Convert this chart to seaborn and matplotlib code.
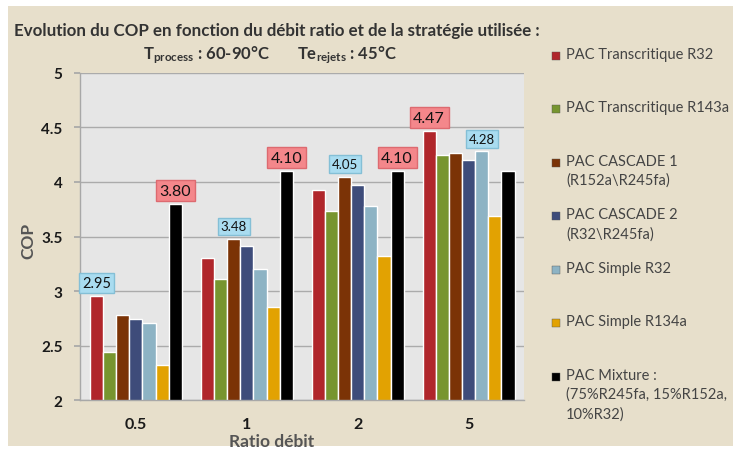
import numpy as np
import pandas as pd
import matplotlib
matplotlib.use("Agg")
import matplotlib.pyplot as plt
import seaborn as sns
from matplotlib.patches import Rectangle

# data
ratios = ["0.5", "1", "2", "5"]
strategies = [
    "PAC Transcritique R32",
    "PAC Transcritique R143a",
    "PAC CASCADE 1\n(R152a\\R245fa)",
    "PAC CASCADE 2\n(R32\\R245fa)",
    "PAC Simple R32",
    "PAC Simple R134a",
    "PAC Mixture :\n(75%R245fa, 15%R152a,\n10%R32)",
]
cop_transcritique_r32 = [2.95, 3.30, 3.93, 4.47]
cop_transcritique_r143a = [2.44, 3.11, 3.73, 4.25]
cop_cascade_1 = [2.78, 3.48, 4.05, 4.27]
cop_cascade_2 = [2.74, 3.41, 3.97, 4.20]
cop_simple_r32 = [2.71, 3.20, 3.78, 4.28]
cop_simple_r134a = [2.32, 2.85, 3.32, 3.69]
cop_mixture = [3.80, 4.10, 4.10, 4.10]
colors = ["#B0262B", "#77952F", "#7B3306", "#3E4C7A", "#8DB3C4", "#E2A202", "#000000"]

# highlighted values: (ratio index, strategy index, box style)
highlights = [(0, 0, "blue"), (0, 6, "red"), (1, 2, "blue"), (1, 6, "red"),
              (2, 2, "blue"), (2, 6, "red"), (3, 0, "red"), (3, 4, "blue")]

series = [cop_transcritique_r32, cop_transcritique_r143a, cop_cascade_1, cop_cascade_2,
          cop_simple_r32, cop_simple_r134a, cop_mixture]
rows = []
for name, vals in zip(strategies, series):
    for r, v in zip(ratios, vals):
        rows.append({"ratio": r, "strategie": name, "cop": v})
df = pd.DataFrame(rows)

sns.set_theme(style="white")
plt.rcParams["font.family"] = ["Lato", "DejaVu Sans"]
plt.rcParams["mathtext.fontset"] = "custom"
plt.rcParams["mathtext.rm"] = "Lato"
plt.rcParams["mathtext.bf"] = "Lato:bold"

W, H = 733, 452
bg = "#E7DFCB"
fig = plt.figure(figsize=(7.33, 4.52), dpi=100, facecolor="white")
# beige slide background with thin white margins top, left and bottom
fig.add_artist(Rectangle((8 / W, 1 - 447 / H), 1 - 8 / W, 440 / H,
                         transform=fig.transFigure, fc=bg, ec="none", zorder=-10))

ax = fig.add_axes([0.1098, 0.1128, 0.6051, 0.7235])
ax.set_facecolor("#E6E6E6")

sns.barplot(data=df, x="ratio", y="cop", hue="strategie", order=ratios,
            hue_order=strategies, palette=colors, width=0.83, saturation=1,
            legend=False, ax=ax)

ax.set_ylim(2, 5)
ax.set_yticks(np.arange(2, 5.01, 0.5))
ax.set_yticklabels(["2", "2.5", "3", "3.5", "4", "4.5", "5"])
ax.yaxis.grid(True, color="#ABABAB", linewidth=1)
ax.set_axisbelow(True)
for side in ["top", "right"]:
    ax.spines[side].set_visible(False)
for side in ["left", "bottom"]:
    ax.spines[side].set_color("#A8A8A8")
    ax.spines[side].set_linewidth(1)

ax.set_xticks(np.arange(-0.5, 4, 1), minor=True)
ax.tick_params(axis="x", which="major", length=0, pad=12, labelsize=11.5, labelcolor="#1A1A1A")
ax.tick_params(axis="x", which="minor", length=5, color="#A8A8A8", direction="out")
ax.tick_params(axis="y", length=4, color="#A8A8A8", direction="out", pad=9,
               labelsize=11, labelcolor="#1A1A1A", left=True)
for t in ax.get_xticklabels() + ax.get_yticklabels():
    t.set_fontweight("bold")
ax.set_xlim(-0.5, 3.5)

ax.set_xlabel("Ratio débit", fontsize=12.5, fontweight="bold", color="#555555")
ax.set_ylabel("COP", fontsize=12.5, fontweight="bold", color="#555555")
ax.xaxis.set_label_coords(0.43, -0.10)
ax.yaxis.set_label_coords(-0.10, 0.49)

# value boxes
box_styles = {
    "red": dict(fc="#F4878B", ec="#DD6A70", size=11.5),
    "blue": dict(fc="#A9DCF0", ec="#84BFD6", size=9.5),
}
for ci, si, kind in highlights:
    bar = ax.containers[si][ci]
    x = bar.get_x() + bar.get_width() / 2
    y = bar.get_height()
    st = box_styles[kind]
    size = 10.5 if (ci, si) == (0, 0) else st["size"]
    ax.annotate(f"{y:.2f}", (x, y), xytext=(0, 4.5), textcoords="offset points",
                ha="center", va="bottom", fontsize=size, color="#111111",
                bbox=dict(boxstyle="square,pad=0.22", fc=st["fc"], ec=st["ec"], lw=1))

# titles
fig.text(0.019, 0.931, "Evolution du COP en fonction du débit ratio et de la stratégie utilisée :",
         fontsize=12.2, fontweight="bold", color="#333333", va="center", ha="left")
fig.text(0.195, 0.877, r"$\mathbf{T_{process}}$ : 60-90°C", fontsize=12,
         fontweight="bold", color="#333333", va="center", ha="left")
fig.text(0.405, 0.877, r"$\mathbf{Te_{rejets}}$ : 45°C", fontsize=12,
         fontweight="bold", color="#333333", va="center", ha="left")

# legend on the right, one entry every ~53.5 px
for i, (name, col) in enumerate(zip(strategies, colors)):
    yc = 56.7 + i * 53.5
    fig.add_artist(Rectangle((552 / W, 1 - (yc + 4) / H), 8 / W, 8 / H,
                             transform=fig.transFigure, fc=col, ec="#555555", lw=0.3))
    fig.text(566 / W, 1 - (yc - 9) / H, name, fontsize=10.5, color="#444444",
             va="top", ha="left", linespacing=1.45)

fig.savefig("out.png", dpi=100, facecolor="white")
